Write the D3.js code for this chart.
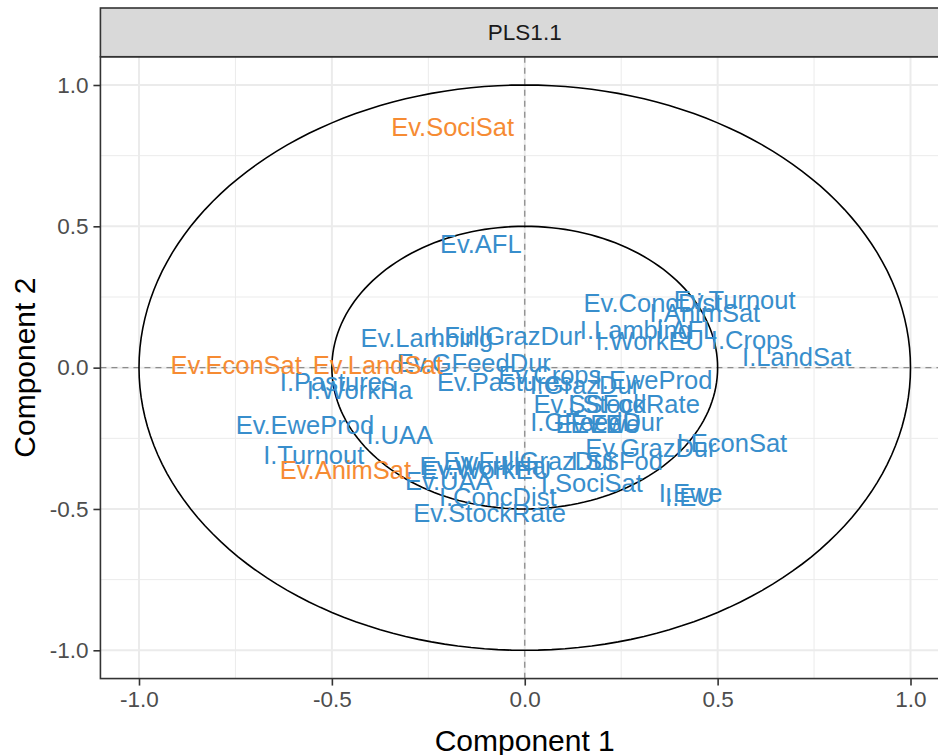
<!DOCTYPE html>
<html>
<head>
<meta charset="utf-8">
<script src="https://cdn.jsdelivr.net/npm/d3@7"></script>
<style>
  html, body { margin: 0; padding: 0; background: #fff; }
  svg { display: block; font-family: "Liberation Sans", Arial, sans-serif; }
</style>
</head>
<body>
<svg id="chart" width="938" height="755"></svg>
<script>
// ---- data ----
const stripLabel = "PLS1.1";
const xTicks = [-1.0, -0.5, 0.0, 0.5, 1.0];
const yTicks = [-1.0, -0.5, 0.0, 0.5, 1.0];
const minorTicks = [-0.75, -0.25, 0.25, 0.75];
const circleRadii = [1.0, 0.5];

// block 1 (blue) variables
const blueNames = [
  "Ev.AFL", "I.Pastures", "I.WorkHa", "Ev.EweProd", "I.UAA", "I.Turnout",
  "Ev.Lambing", "I.FullGrazDur", "Ev.GFeedDur", "Ev.Pastures", "Ev.Crops",
  "I.GrazDur", "I.EweProd", "Ev.ConcDist", "Ev.Turnout", "I.AnimSat",
  "I.Lambing", "I.AFL", "I.WorkEU", "I.Crops", "I.LandSat", "Ev.SSFod",
  "I.StockRate", "I.GFeedDur", "Ev.Ewe", "Ev.EU", "Ev.GrazDur", "I.EconSat",
  "Ev.FullGrazDur", "I.SSFod", "Ev.WorkHa", "Ev.WorkEU", "Ev.UAA",
  "I.ConcDist", "Ev.StockRate", "I.SociSat", "I.Ewe", "I.EU"
];
const blueComp1 = [
  -0.114, -0.486, -0.428, -0.570, -0.324, -0.547,
  -0.254, -0.049, -0.132, -0.052, 0.065,
  0.156, 0.334, 0.332, 0.544, 0.467,
  0.288, 0.420, 0.324, 0.589, 0.705, 0.169,
  0.283, 0.187, 0.189, 0.210, 0.327, 0.537,
  0.013, 0.239, -0.109, -0.099, -0.197,
  -0.070, -0.091, 0.174, 0.430, 0.428
];
const blueComp2 = [
  0.437, -0.050, -0.080, -0.203, -0.239, -0.310,
  0.104, 0.111, 0.016, -0.051, -0.027,
  -0.062, -0.044, 0.228, 0.239, 0.193,
  0.133, 0.133, 0.094, 0.097, 0.037, -0.129,
  -0.129, -0.193, -0.200, -0.200, -0.285, -0.267,
  -0.331, -0.331, -0.348, -0.363, -0.401,
  -0.458, -0.515, -0.409, -0.444, -0.458
];

// block 2 (orange) variables
const orangeNames = ["Ev.SociSat", "Ev.EconSat", "Ev.LandSat", "Ev.AnimSat"];
const orangeComp1 = [-0.187, -0.748, -0.381, -0.465];
const orangeComp2 = [0.851, 0.009, 0.009, -0.363];

const blockColors = ["#388ECC", "#F68B33"];

// ---- layout ----
const svg = d3.select("#chart");
const x = d3.scaleLinear().domain([-1, 1]).range([139, 910.5]);
const y = d3.scaleLinear().domain([-1, 1]).range([650.3, 85]);
const panel = { x0: x(-1.1), x1: x(1.1), y0: y(1.1), y1: y(-1.1) };

svg.append("defs").append("clipPath").attr("id", "clip")
  .append("rect")
  .attr("x", panel.x0).attr("y", panel.y0)
  .attr("width", panel.x1 - panel.x0).attr("height", panel.y1 - panel.y0);

// panel background
svg.append("rect")
  .attr("x", panel.x0).attr("y", panel.y0)
  .attr("width", panel.x1 - panel.x0).attr("height", panel.y1 - panel.y0)
  .attr("fill", "#fff");

const grid = svg.append("g").attr("clip-path", "url(#clip)");
// minor grid
grid.selectAll(".mx").data(minorTicks).join("line")
  .attr("x1", d => x(d)).attr("x2", d => x(d))
  .attr("y1", panel.y0).attr("y2", panel.y1)
  .attr("stroke", "#EBEBEB").attr("stroke-width", 1);
grid.selectAll(".my").data(minorTicks).join("line")
  .attr("y1", d => y(d)).attr("y2", d => y(d))
  .attr("x1", panel.x0).attr("x2", panel.x1)
  .attr("stroke", "#EBEBEB").attr("stroke-width", 1);
// major grid
grid.selectAll(".gx").data(xTicks).join("line")
  .attr("x1", d => x(d)).attr("x2", d => x(d))
  .attr("y1", panel.y0).attr("y2", panel.y1)
  .attr("stroke", "#EBEBEB").attr("stroke-width", 2);
grid.selectAll(".gy").data(yTicks).join("line")
  .attr("y1", d => y(d)).attr("y2", d => y(d))
  .attr("x1", panel.x0).attr("x2", panel.x1)
  .attr("stroke", "#EBEBEB").attr("stroke-width", 2);

// dashed zero lines
grid.append("line")
  .attr("x1", x(0)).attr("x2", x(0)).attr("y1", panel.y0).attr("y2", panel.y1)
  .attr("stroke", "#8C8C8C").attr("stroke-width", 1.3).attr("stroke-dasharray", "6,5");
grid.append("line")
  .attr("y1", y(0)).attr("y2", y(0)).attr("x1", panel.x0).attr("x2", panel.x1)
  .attr("stroke", "#8C8C8C").attr("stroke-width", 1.3).attr("stroke-dasharray", "6,5");

// correlation circles
const circleLine = d3.line().x(d => x(d[0])).y(d => y(d[1]));
circleRadii.forEach(r => {
  const pts = d3.range(0, 361, 2).map(a => [r * Math.cos(a * Math.PI / 180), r * Math.sin(a * Math.PI / 180)]);
  grid.append("path").attr("d", circleLine(pts))
    .attr("fill", "none").attr("stroke", "#000").attr("stroke-width", 1.6);
});

// labels
const blueData = blueNames.map((n, i) => ({ name: n, c1: blueComp1[i], c2: blueComp2[i], block: 0 }));
const orangeData = orangeNames.map((n, i) => ({ name: n, c1: orangeComp1[i], c2: orangeComp2[i], block: 1 }));
const allData = blueData.concat(orangeData);

grid.selectAll(".lab").data(allData).join("text")
  .attr("x", d => x(d.c1)).attr("y", d => y(d.c2))
  .attr("dy", "0.35em")
  .attr("text-anchor", "middle")
  .attr("font-size", 25.5)
  .attr("fill", d => blockColors[d.block])
  .text(d => d.name);

// panel border
svg.append("rect")
  .attr("x", panel.x0).attr("y", panel.y0)
  .attr("width", panel.x1 - panel.x0).attr("height", panel.y1 - panel.y0)
  .attr("fill", "none").attr("stroke", "#333333").attr("stroke-width", 1.6);

// strip
const stripTop = 8;
svg.append("rect")
  .attr("x", panel.x0).attr("y", stripTop)
  .attr("width", panel.x1 - panel.x0).attr("height", panel.y0 - stripTop)
  .attr("fill", "#D9D9D9").attr("stroke", "#333333").attr("stroke-width", 1.6);
svg.append("text")
  .attr("x", x(0)).attr("y", (stripTop + panel.y0) / 2).attr("dy", "0.35em")
  .attr("text-anchor", "middle").attr("font-size", 22.5).attr("fill", "#1A1A1A")
  .text(stripLabel);

// axes
const fmt = d => d.toFixed(1);
const xAxis = svg.append("g").attr("transform", `translate(0,${panel.y1})`)
  .call(d3.axisBottom(x).tickValues(xTicks).tickFormat(fmt).tickSizeInner(7).tickSizeOuter(0).tickPadding(5));
const yAxis = svg.append("g").attr("transform", `translate(${panel.x0},0)`)
  .call(d3.axisLeft(y).tickValues(yTicks).tickFormat(fmt).tickSizeInner(7).tickSizeOuter(0).tickPadding(5));
[xAxis, yAxis].forEach(g => {
  g.select(".domain").remove();
  g.selectAll(".tick line").attr("stroke", "#333333").attr("stroke-width", 1.6);
  g.selectAll(".tick text").attr("fill", "#4D4D4D").attr("font-size", 22.5)
    .attr("font-family", "'Liberation Sans', Arial, sans-serif");
});

// axis titles
svg.append("text")
  .attr("x", x(0)).attr("y", 740).attr("dy", "0.35em")
  .attr("text-anchor", "middle").attr("font-size", 30).attr("fill", "#000")
  .text("Component 1");
svg.append("text")
  .attr("transform", `translate(24,${y(0)}) rotate(-90)`).attr("dy", "0.35em")
  .attr("text-anchor", "middle").attr("font-size", 30).attr("fill", "#000")
  .text("Component 2");
</script>
</body>
</html>
